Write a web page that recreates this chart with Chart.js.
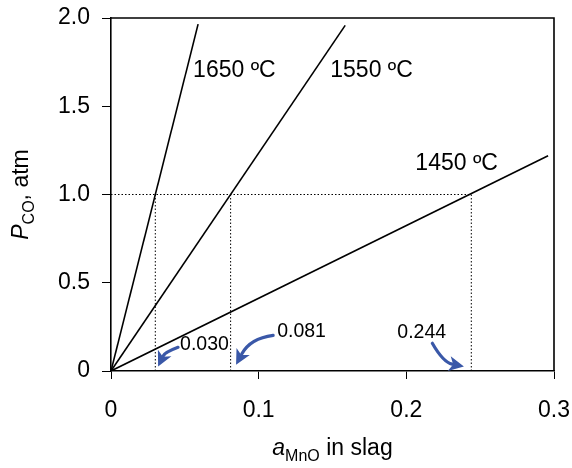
<!DOCTYPE html>
<html>
<head>
<meta charset="utf-8">
<script src="https://cdn.jsdelivr.net/npm/chart.js@4/dist/chart.umd.min.js"></script>
<style>
  html, body { margin: 0; padding: 0; background: #fff; }
  #wrap { width: 572px; height: 468px; }
</style>
</head>
<body>
<div id="wrap"><canvas id="chart" width="572" height="468"></canvas></div>
<script>
// P_CO frente a a_MnO para tres temperaturas (rectas desde el origen).
const temperaturas = ['1650 ºC', '1550 ºC', '1450 ºC'];
const finX = [0.059, 0.1586, 0.296];     // extremo de cada recta (a_MnO)
const finY = [1.965, 1.958, 1.22];       // extremo de cada recta (P_CO)
const etiquetaX = [0.0556, 0.1485, 0.2061];
const etiquetaY = [1.704, 1.704, 1.176];

// Actividades a P_CO = 1 atm
const actividades = [0.030, 0.081, 0.244];
const textoAct = ['0.030', '0.081', '0.244'];
const textoActX = [0.0468, 0.1125, 0.1939];
const textoActY = [0.151, 0.225, 0.219];
// Flechas: inicio, control, punta (en unidades de datos)
const flechaIni = [[0.0454, 0.134], [0.1098, 0.202], [0.2176, 0.157]];
const flechaCtl = [[0.0366, 0.106], [0.0942, 0.185], [0.2250, 0.049]];
const flechaFin = [[0.0319, 0.025], [0.0847, 0.036], [0.2390, 0.025]];

const ticksX = [0, 0.1, 0.2, 0.3];
const ticksY = [0, 0.5, 1.0, 1.5, 2.0];
const etiquetasTickX = ['0', '0.1', '0.2', '0.3'];
const etiquetasTickY = ['0', '0.5', '1.0', '1.5', '2.0'];

const FUENTE = '"Liberation Sans", Arial, sans-serif';
const AZUL = '#3a58a8';

const datasets = [];
temperaturas.forEach((t, i) => {
  datasets.push({
    label: t,
    data: [{ x: 0, y: 0 }, { x: finX[i], y: finY[i] }],
    showLine: true, borderColor: '#000', borderWidth: 1.6, pointRadius: 0,
  });
});
// líneas punteadas
datasets.push({
  label: 'P = 1',
  data: [{ x: 0, y: 1 }, { x: Math.max(...actividades), y: 1 }],
  showLine: true, borderColor: '#000', borderWidth: 1, borderDash: [1.5, 2], pointRadius: 0,
});
actividades.forEach(a => {
  datasets.push({
    label: 'a = ' + a,
    data: [{ x: a, y: 0 }, { x: a, y: 1 }],
    showLine: true, borderColor: '#000', borderWidth: 1, borderDash: [1.5, 2], pointRadius: 0,
  });
});

const extras = {
  id: 'extras',
  afterDatasetsDraw(chart) {
    const { ctx, chartArea: ca, scales: { x, y } } = chart;
    ctx.save();
    // marco superior y derecho
    ctx.strokeStyle = '#000';
    ctx.lineWidth = 1.6;
    ctx.beginPath();
    ctx.moveTo(ca.left, ca.top);
    ctx.lineTo(ca.right, ca.top);
    ctx.lineTo(ca.right, ca.bottom);
    ctx.stroke();

    // etiquetas de temperatura
    ctx.fillStyle = '#000';
    ctx.textBaseline = 'middle';
    ctx.textAlign = 'left';
    ctx.font = '23px ' + FUENTE;
    temperaturas.forEach((t, i) => {
      ctx.fillText(t, x.getPixelForValue(etiquetaX[i]), y.getPixelForValue(etiquetaY[i]));
    });

    // valores de actividad
    ctx.font = '19.5px ' + FUENTE;
    textoAct.forEach((t, i) => {
      ctx.fillText(t, x.getPixelForValue(textoActX[i]), y.getPixelForValue(textoActY[i]));
    });

    // flechas curvas
    ctx.strokeStyle = AZUL;
    ctx.fillStyle = AZUL;
    ctx.lineWidth = 3.2;
    ctx.lineCap = 'round';
    flechaIni.forEach((p0, i) => {
      const x0 = x.getPixelForValue(p0[0]), y0 = y.getPixelForValue(p0[1]);
      const xc = x.getPixelForValue(flechaCtl[i][0]), yc = y.getPixelForValue(flechaCtl[i][1]);
      const x1 = x.getPixelForValue(flechaFin[i][0]), y1 = y.getPixelForValue(flechaFin[i][1]);
      const ang = Math.atan2(y1 - yc, x1 - xc);
      const L = 15, W = 7.5;
      const bx = x1 - L * Math.cos(ang), by = y1 - L * Math.sin(ang);
      ctx.beginPath();
      ctx.moveTo(x0, y0);
      ctx.quadraticCurveTo(xc, yc, bx + 3 * Math.cos(ang), by + 3 * Math.sin(ang));
      ctx.stroke();
      ctx.beginPath();
      ctx.moveTo(x1, y1);
      ctx.lineTo(bx - W * Math.sin(ang), by + W * Math.cos(ang));
      ctx.lineTo(bx + 4 * Math.cos(ang), by + 4 * Math.sin(ang));
      ctx.lineTo(bx + W * Math.sin(ang), by - W * Math.cos(ang));
      ctx.closePath();
      ctx.fill();
    });

    // títulos de ejes con subíndices
    ctx.fillStyle = '#000';
    ctx.textBaseline = 'alphabetic';
    ctx.textAlign = 'left';
    const partesX = [['a', 'italic 23px ', 0], ['MnO', '16px ', 6], [' in slag', '23px ', 0]];
    const partesY = [['P', 'italic 23px ', 0], ['CO', '16px ', 6], [', atm', '23px ', 0]];
    const medir = partes => partes.reduce((s, p) => { ctx.font = p[1] + FUENTE; return s + ctx.measureText(p[0]).width; }, 0);
    const escribir = (partes, x0, base) => {
      let cx = x0;
      partes.forEach(p => {
        ctx.font = p[1] + FUENTE;
        ctx.fillText(p[0], cx, base + p[2]);
        cx += ctx.measureText(p[0]).width;
      });
    };
    const wx = medir(partesX);
    escribir(partesX, (ca.left + ca.right) / 2 - wx / 2, 455);
    const wy = medir(partesY);
    ctx.translate(28, (ca.top + ca.bottom) / 2);
    ctx.rotate(-Math.PI / 2);
    escribir(partesY, -wy / 2, 0);
    ctx.restore();
  },
};

new Chart(document.getElementById('chart'), {
  type: 'scatter',
  data: { datasets },
  options: {
    responsive: false,
    animation: false,
    layout: { padding: { left: 0, right: 18, top: 18, bottom: 0 } },
    plugins: { legend: { display: false }, tooltip: { enabled: false } },
    scales: {
      x: {
        type: 'linear', min: 0, max: 0.3,
        afterFit: s => { s.height = 97; s.paddingLeft = 0; s.paddingRight = 0; },
        afterBuildTicks: s => { s.ticks = ticksX.map(v => ({ value: v })); },
        ticks: {
          color: '#000', font: { family: FUENTE, size: 23 }, padding: 18,
          callback: (v) => etiquetasTickX[ticksX.findIndex(t => Math.abs(t - v) < 1e-9)],
        },
        grid: { display: true, drawOnChartArea: false, drawTicks: true, tickLength: 8, color: '#000', lineWidth: 1 },
        border: { display: true, color: '#000', width: 1.6 },
      },
      y: {
        type: 'linear', min: 0, max: 2,
        afterFit: s => { s.width = 111; s.paddingTop = 0; s.paddingBottom = 0; },
        afterBuildTicks: s => { s.ticks = ticksY.map(v => ({ value: v })); },
        ticks: {
          color: '#000', font: { family: FUENTE, size: 23 }, padding: 12,
          callback: (v) => etiquetasTickY[ticksY.findIndex(t => Math.abs(t - v) < 1e-9)],
        },
        grid: { display: true, drawOnChartArea: false, drawTicks: true, tickLength: 9, color: '#000', lineWidth: 1 },
        border: { display: true, color: '#000', width: 1.6 },
      },
    },
  },
  plugins: [extras],
});
</script>
</body>
</html>
